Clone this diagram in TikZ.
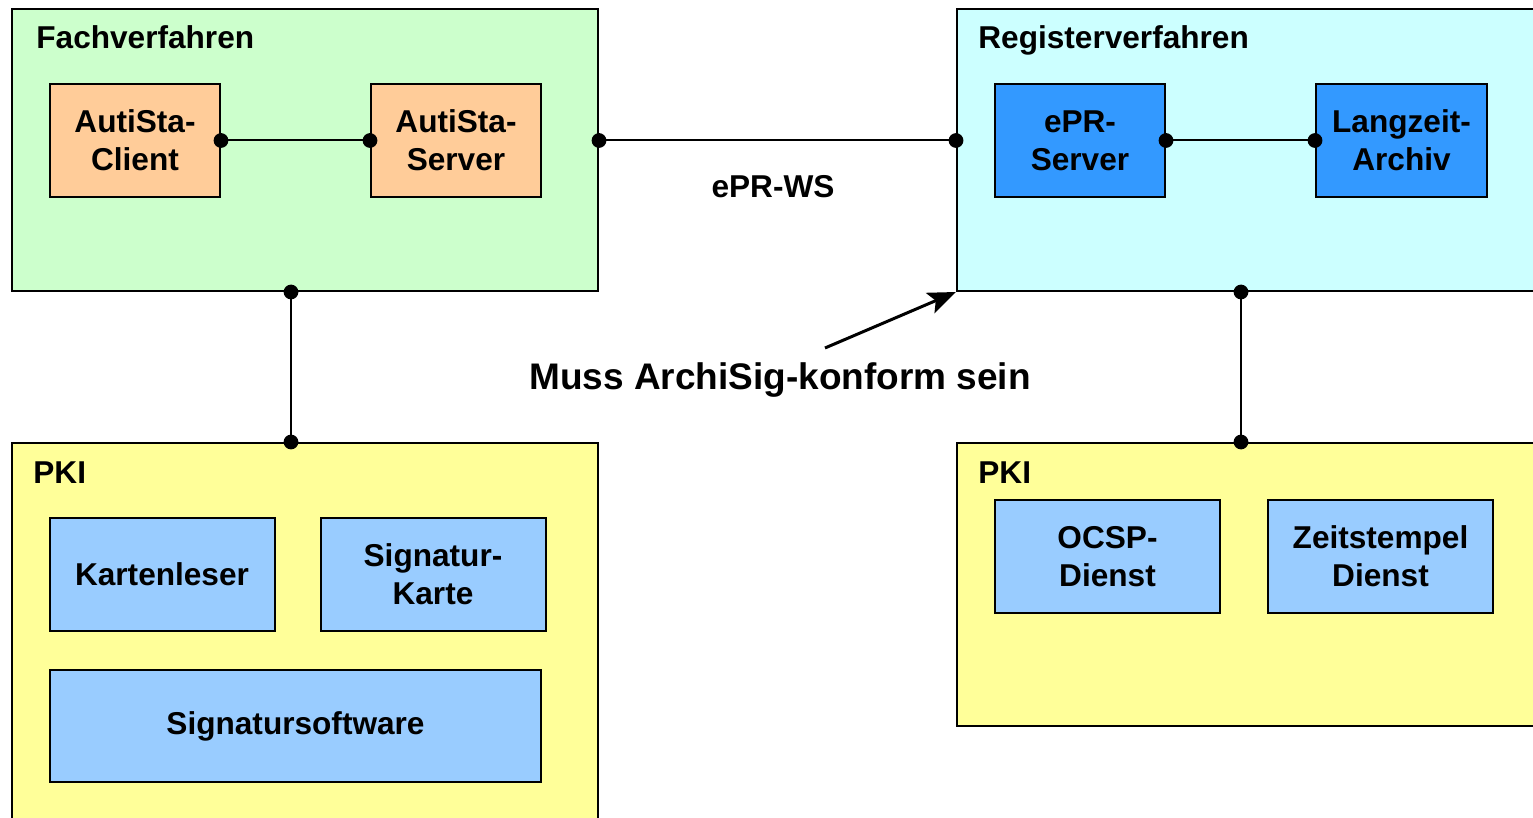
\documentclass[tikz,border=0pt]{standalone}
\usepackage{fontspec}
\setmainfont{Liberation Sans}
\usetikzlibrary{fit,arrows.meta}
\definecolor{cgreen}{HTML}{CCFFCC}
\definecolor{ccyan}{HTML}{CCFFFF}
\definecolor{corange}{HTML}{FFCC99}
\definecolor{cblue}{HTML}{3399FF}
\definecolor{clblue}{HTML}{99CCFF}
\definecolor{cyellow}{HTML}{FFFF99}
\tikzset{
  frame/.style={draw=black, line width=1pt, inner sep=0pt},
  box/.style={draw=black, line width=1pt, inner sep=0pt, align=center,
    font=\fontsize{15.8pt}{19pt}\selectfont\bfseries},
  smallbox/.style={box, minimum width=85pt, minimum height=56.5pt},
  widebox/.style={box, minimum width=112.5pt, minimum height=56.5pt},
  title/.style={anchor=base west, inner sep=0pt, font=\fontsize{15.8pt}{19pt}\selectfont\bfseries},
  conn/.style={line width=1pt},
}
\begin{document}
\begin{tikzpicture}[x=0.5pt,y=-0.5pt]
\useasboundingbox (0,0) rectangle (1533,818);
\clip (0,0) rectangle (1533,818);
% containers
\node[frame, fill=cgreen, fit={(12,9) (598,291)}] (fach) {};
\node[frame, fill=ccyan, fit={(957,9) (1600,291)}] (reg) {};
\node[frame, fill=cyellow, fit={(12,443) (598,860)}] (pkil) {};
\node[frame, fill=cyellow, fit={(957,443) (1600,726)}] (pkir) {};
% titles
\node[title] (tfach) at (36,49) {Fachverfahren};
\node[title] (treg) at (978,49) {Registerverfahren};
\node[title] (tpkil) at (33,484) {PKI};
\node[title] (tpkir) at (978,484) {PKI};
% inner boxes
\node[smallbox, fill=corange] (client) at (135,140.5) {AutiSta-\\Client};
\node[smallbox, fill=corange] (server) at (456,140.5) {AutiSta-\\Server};
\node[smallbox, fill=cblue] (epr) at (1080,140.5) {ePR-\\Server};
\node[smallbox, fill=cblue, minimum width=85.5pt] (archiv) at (1401.5,140.5) {Langzeit-\\Archiv};
\node[widebox, fill=clblue] (leser) at (162,574.5) {Kartenleser};
\node[widebox, fill=clblue] (karte) at (433,574.5) {Signatur-\\Karte};
\node[box, fill=clblue, minimum width=245.5pt, minimum height=56pt] (software) at (295.5,726) {Signatursoftware};
\node[widebox, fill=clblue] (ocsp) at (1107.5,556.5) {OCSP-\\Dienst};
\node[widebox, fill=clblue] (zeit) at (1380.5,556.5) {Zeitstempel\\Dienst};
% connectors
\coordinate (vl) at (291,0);
\coordinate (vr) at (1241,0);
\draw[conn] (client.east) -- (server.west);
\draw[conn] (epr.east) -- (archiv.west);
\draw[conn] (fach.east |- client.east) -- (reg.west |- client.east);
\draw[conn] (fach.south -| vl) -- (pkil.north -| vl);
\draw[conn] (reg.south -| vr) -- (pkir.north -| vr);
\foreach \p in {client.east, server.west, epr.east, archiv.west}
  \fill (\p) circle (3.7pt);
\fill (fach.east |- client.east) circle (3.7pt);
\fill (reg.west |- client.east) circle (3.7pt);
\fill (fach.south -| vl) circle (3.7pt);
\fill (pkil.north -| vl) circle (3.7pt);
\fill (reg.south -| vr) circle (3.7pt);
\fill (pkir.north -| vr) circle (3.7pt);
% labels
\node[font=\fontsize{15.8pt}{19pt}\selectfont\bfseries, inner sep=0pt] (ws) at (773,187) {ePR-WS};
\node[font=\fontsize{18.5pt}{22pt}\selectfont\bfseries, inner sep=0pt] (muss) at (780,380) {Muss ArchiSig-konform sein};
\coordinate (astart) at (825,348);
\draw[line width=1.5pt, -{Stealth[length=14pt,width=11pt,inset=3pt]}] (astart) -- (reg.south west);
\end{tikzpicture}
\end{document}
